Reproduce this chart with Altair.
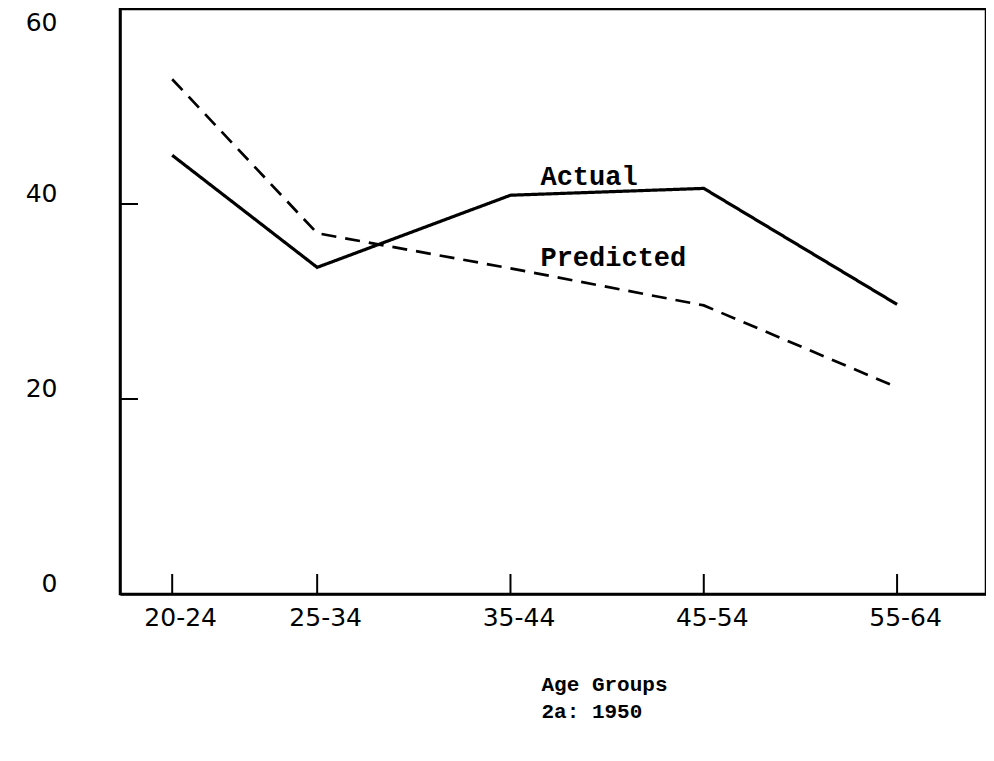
import altair as alt
import pandas as pd

# ---- data ----
age_groups = ["20-24", "25-34", "35-44", "45-54", "55-64"]
age_mid = [22.5, 30, 40, 50, 60]
actual = [45.0, 33.5, 40.9, 41.6, 29.7]
predicted = [52.8, 37.0, 33.4, 29.6, 21.2]
series_names = ["Actual", "Predicted"]
y_label_values = [0, 20, 40, 60]
y_tick_values = [20, 40]
ann_text = ["Actual", "Predicted"]
ann_x = [41.55, 41.55]
ann_y = [42.0, 33.6]
axis_title = ["Age Groups", "2a: 1950"]

W, H = 866, 585
xs = alt.Scale(domain=[19.8, 64.6], nice=False, zero=False)
ys = alt.Scale(domain=[0, 60], nice=False, zero=False)

df = pd.DataFrame({
    "mid": age_mid * 2,
    "value": actual + predicted,
    "series": [series_names[0]] * len(actual) + [series_names[1]] * len(predicted),
})
ann = pd.DataFrame({"text": ann_text, "mid": ann_x, "value": ann_y})
yt = pd.DataFrame({"value": y_tick_values})
xt = pd.DataFrame({"mid": age_mid})

label_expr = " : ".join(f"datum.value == {m} ? '{g}'" for m, g in zip(age_mid, age_groups)) + " : ''"

x_axis = alt.Axis(
    values=age_mid, labelExpr=label_expr, ticks=False, grid=False,
    domainColor="black", domainWidth=2.5, labelFlush=False,
    labelFont="DejaVu Sans", labelFontSize=25, labelColor="black",
    labelPadding=11, labelOffset=8,
    title=axis_title, titleFont="Liberation Mono", titleFontWeight="bold",
    titleFontSize=21, titleColor="black", titleAlign="left", titleAnchor="start",
    titleX=421, titleY=96, titleBaseline="alphabetic", titleLineHeight=27,
)
y_axis = alt.Axis(
    values=y_label_values, ticks=False, grid=False, title=None,
    domainColor="black", domainWidth=2.5, labelFlush=False,
    labelFont="DejaVu Sans", labelFontSize=25, labelColor="black",
    labelAlign="right", labelBaseline="middle", labelPadding=63,
    labelOffset={"condition": {"test": "datum.value == 60", "value": 13}, "value": -11},
)

X = alt.X("mid:Q", scale=xs, axis=x_axis)
Y = alt.Y("value:Q", scale=ys, axis=y_axis)

lines = alt.Chart(df).mark_line(color="black").encode(
    x=X, y=Y,
    strokeDash=alt.StrokeDash("series:N", scale=alt.Scale(domain=series_names, range=[[1, 0], [15, 9]]), legend=None),
    strokeWidth=alt.StrokeWidth("series:N", scale=alt.Scale(domain=series_names, range=[3.2, 2.7]), legend=None),
    detail="series:N",
)

texts = alt.Chart(ann).mark_text(
    align="left", baseline="alphabetic", font="Liberation Mono",
    fontSize=27, fontWeight="bold", color="black",
).encode(x=X, y=Y, text="text:N")

y_ticks = alt.Chart(yt).mark_rule(color="black", strokeWidth=2).encode(
    y=Y, x=alt.value(0), x2=alt.value(18),
)
x_ticks = alt.Chart(xt).mark_rule(color="black", strokeWidth=2).encode(
    x=X, y=alt.value(H), y2=alt.value(H - 20),
)

chart = alt.layer(lines, texts, y_ticks, x_ticks).properties(
    width=W, height=H,
    autosize=alt.AutoSizeParams(type="none"),
    padding={"left": 112, "top": 1, "right": 0, "bottom": 130},
    background="white",
).configure_view(stroke="black", strokeWidth=2.5)

chart.save("out.html", embed_options={"renderer": "svg", "actions": False})
